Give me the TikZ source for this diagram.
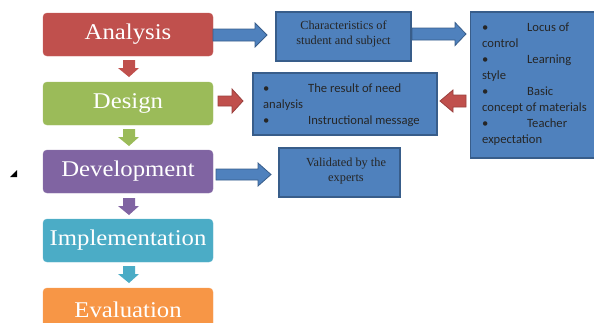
\documentclass[tikz,border=0pt]{standalone}
\usepackage{fontspec}
\setmainfont{Liberation Serif}
\newfontfamily\titlefont[FakeStretch=1.1]{Liberation Serif}
\newfontfamily\calfont{Carlito}
\definecolor{anred}{HTML}{C0504D}
\definecolor{desgreen}{HTML}{9BBB59}
\definecolor{devpurple}{HTML}{8064A2}
\definecolor{impcyan}{HTML}{4BACC6}
\definecolor{evalorange}{HTML}{F79646}
\definecolor{boxblue}{HTML}{4F81BD}
\definecolor{boxline}{HTML}{385D8A}
\newcommand\downarr[2]{\fill[#1] (123,#2) -- (135,#2) -- (135,#2+8) -- (139,#2+8) -- (129,#2+17) -- (118,#2+8) -- (123,#2+8) -- cycle;}
\newcommand\blockarr[7]{\filldraw[#1] (#2,#5-#6) -- (#3,#5-#6) -- (#3,#5-#7) -- (#4,#5) -- (#3,#5+#7) -- (#3,#5+#6) -- (#2,#5+#6) -- cycle;}
\begin{document}
\begin{tikzpicture}[x=1pt,y=-1pt,
  phase/.style={rounded corners=4pt, minimum width=170pt, minimum height=43pt, inner sep=0pt,
    text=white, font=\titlefont\fontsize{22.5}{24}\selectfont},
  bluebox/.style={fill=boxblue, draw=boxline, line width=1.5pt, inner sep=0pt},
  bluetext/.style={font=\fontsize{12.3}{15}\selectfont, align=center, text=black!85, inner sep=0pt},
  listtext/.style={font=\calfont\fontsize{12.6}{16}\selectfont, align=left, text=black!85, inner sep=0pt, anchor=north west},
  bluearr/.style={fill=boxblue, draw=boxline, line width=0.8pt},
  redarr/.style={fill=anred, draw=anred!80!black, line width=0.8pt}]
\useasboundingbox (0,0) rectangle (594,322);
% left phase boxes
\node[phase, fill=anred, draw=anred!90!white] (ana) at (128,34.5) {Analysis};
\node[phase, fill=desgreen, draw=desgreen!90!white] (des) at (128,103.5) {Design};
\node[phase, fill=devpurple, draw=devpurple!90!white] (dev) at (128,171.5) {Development};
\node[phase, fill=impcyan, draw=impcyan!90!white] (imp) at (128,240.5) {Implementation};
\node[phase, fill=evalorange, draw=evalorange!90!white] (eva) at (128,309.5) {Evaluation};
% down arrows
\downarr{anred}{60}
\downarr{desgreen}{129}
\downarr{devpurple}{198}
\downarr{impcyan}{266}
% blue boxes
\node[bluebox, minimum width=135pt, minimum height=49pt] (chr) at (343.5,36.5) {};
\node[bluetext, anchor=north] (chrt) at (343.5,21) {Characteristics of\\student and subject};
\node[bluebox, minimum width=184pt, minimum height=62pt] (res) at (345,104) {};
\node[listtext] (rest) at (263,84) {\makebox[45pt][l]{\textbullet}The result of need\\analysis\\\makebox[45pt][l]{\textbullet}Instructional message};
\node[bluebox, minimum width=124pt, minimum height=146pt] (lst) at (532.5,85) {};
\node[listtext] (lstt) at (482,23) {\makebox[45pt][l]{\textbullet}Locus of\\control\\\makebox[45pt][l]{\textbullet}Learning\\style\\\makebox[45pt][l]{\textbullet}Basic\\concept of materials\\\makebox[45pt][l]{\textbullet}Teacher\\expectation};
\node[bluebox, minimum width=121pt, minimum height=49pt] (val) at (339.5,172.5) {};
\node[bluetext, anchor=north] (valt) at (346,158) {Validated by the\\experts};
% block arrows
\blockarr{bluearr}{213}{255}{267}{35}{6}{12}
\blockarr{bluearr}{412}{455}{466}{34}{6}{11.5}
\blockarr{bluearr}{216}{258}{271}{174.5}{5.5}{11.5}
\blockarr{redarr}{218}{232}{243}{101}{5}{12}
\blockarr{redarr}{466}{453}{440}{101}{6}{11}
% small marker
\fill[black] (10,177) -- (17,177) -- (17,170) -- cycle;
\end{tikzpicture}
\end{document}
